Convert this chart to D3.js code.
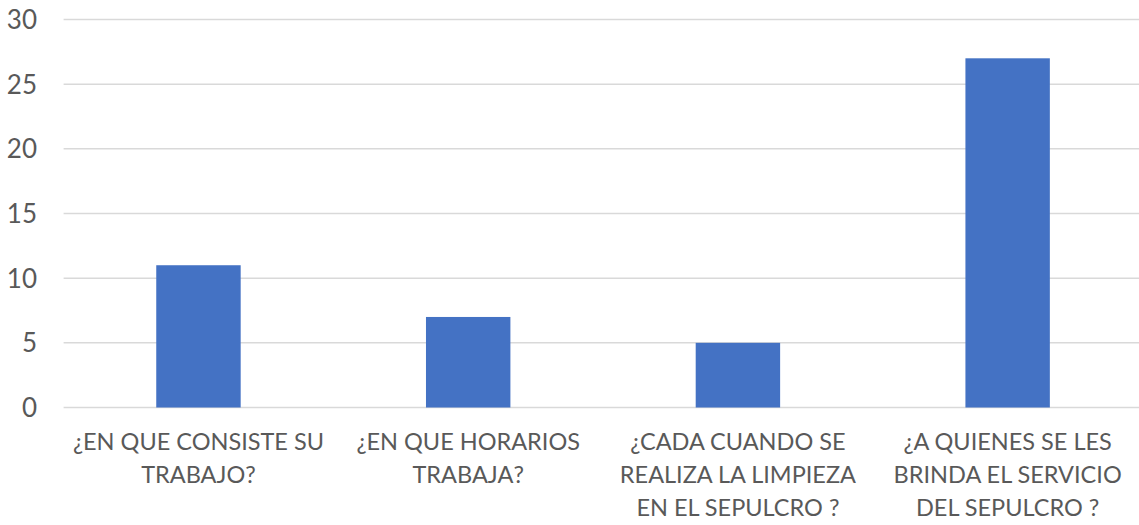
<!DOCTYPE html>
<html>
<head>
<meta charset="utf-8">
<script src="https://cdn.jsdelivr.net/npm/d3@7"></script>
<style>
body { margin: 0; background: #fff; }
text { font-family: Lato, "Open Sans", sans-serif; fill: #595959; }
</style>
</head>
<body>
<script>
var w = 1139;
var h = 525;

var categories = [
    "¿EN QUE CONSISTE SU\nTRABAJO?",
    "¿EN QUE HORARIOS\nTRABAJA?",
    "¿CADA CUANDO SE\nREALIZA LA LIMPIEZA\nEN EL SEPULCRO ?",
    "¿A QUIENES SE LES\nBRINDA EL SERVICIO\nDEL SEPULCRO ?"
];
var values = [11, 7, 5, 27];
var yTicks = [0, 5, 10, 15, 20, 25, 30];

var plotLeft = 63.6, plotRight = 1142.5, plotTop = 19.5, plotBottom = 407.5;

var xScale = d3.scaleBand()
    .domain(categories)
    .range([plotLeft, plotRight])
    .paddingInner(0.687)
    .paddingOuter(0.3435);

var yScale = d3.scaleLinear()
    .domain([0, 30])
    .range([plotBottom, plotTop]);

var svg = d3.select("body")
    .append("svg")
    .attr("width", w)
    .attr("height", h);

// gridlines
svg.selectAll("line.grid")
    .data(yTicks)
    .enter()
    .append("line")
    .attr("class", "grid")
    .attr("x1", plotLeft)
    .attr("x2", plotRight)
    .attr("y1", function(d){ return yScale(d); })
    .attr("y2", function(d){ return yScale(d); })
    .attr("stroke", "#d9d9d9")
    .attr("stroke-width", 1.5);

// bars
svg.selectAll("rect")
    .data(values)
    .enter()
    .append("rect")
    .attr("x", function(d, i){ return xScale(categories[i]); })
    .attr("y", function(d){ return yScale(d); })
    .attr("width", xScale.bandwidth())
    .attr("height", function(d){ return yScale(0) - yScale(d); })
    .attr("fill", "#4472c4");

// y labels
svg.selectAll("text.ytick")
    .data(yTicks)
    .enter()
    .append("text")
    .attr("class", "ytick")
    .attr("x", 37)
    .attr("y", function(d){ return yScale(d); })
    .attr("dy", "0.36em")
    .attr("text-anchor", "end")
    .attr("font-size", "26px")
    .text(function(d){ return d; });

// category labels
var lab = svg.selectAll("text.cat")
    .data(categories)
    .enter()
    .append("text")
    .attr("class", "cat")
    .attr("text-anchor", "middle")
    .attr("font-size", "23.5px")
    .attr("transform", function(d){
        return "translate(" + (xScale(d) + xScale.bandwidth() / 2) + ",0)";
    });

lab.selectAll("tspan")
    .data(function(d){ return d.split("\n"); })
    .enter()
    .append("tspan")
    .attr("x", 0)
    .attr("y", function(d, i){ return 450 + i * 33; })
    .text(function(d){ return d; });
</script>
</body>
</html>
